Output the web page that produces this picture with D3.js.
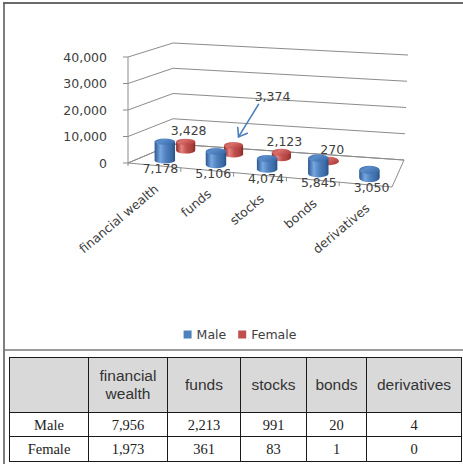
<!DOCTYPE html>
<html>
<head>
<meta charset="utf-8">
<script src="https://cdn.jsdelivr.net/npm/d3@7"></script>
<style>
  html, body { margin: 0; padding: 0; background: #fff; }
  svg { display: block; }
</style>
</head>
<body>
<svg id="fig" width="463" height="464"></svg>
<script>
// ---- chart data: holdings by asset class ----
const categories = ["financial wealth", "funds", "stocks", "bonds", "derivatives"];
const seriesNames = ["Male", "Female"];
const maleValues = [7178, 5106, 4074, 5845, 3050];
const femaleValues = [3428, 3374, 2123, 270, null];
const yTickValues = [0, 10000, 20000, 30000, 40000];

// ---- summary table data ----
const tableHeader = ["", "financial wealth", "funds", "stocks", "bonds", "derivatives"];
const tableRowLabels = ["Male", "Female"];
const tableMale = [7956, 2213, 991, 20, 4];
const tableFemale = [1973, 361, 83, 1, 0];

// ---- layout ----
const svg = d3.select("#fig");
const fmt = d3.format(",");
const chartFont = "'DejaVu Sans', Verdana, sans-serif";
const axisGray = "#8c8c8c";
const textGray = "#404040";

// corners of the 3-D plot box on screen: floor and top (value = max)
const box = {
  floor: { fl: [128, 163], fr: [392, 187], bl: [173, 144], br: [404, 160] },
  top:   { fl: [128, 57],  fr: [395, 79],  bl: [173, 43],  br: [408, 55] }
};
function bilerp(c, u, w) {
  const k = [(1 - u) * (1 - w), u * (1 - w), (1 - u) * w, u * w];
  return [
    k[0] * c.fl[0] + k[1] * c.fr[0] + k[2] * c.bl[0] + k[3] * c.br[0],
    k[0] * c.fl[1] + k[1] * c.fr[1] + k[2] * c.bl[1] + k[3] * c.br[1]
  ];
}
// u: along categories (0..1), w: depth (0 front .. 1 back), t: height fraction
function project(u, w, t) {
  const a = bilerp(box.floor, u, w), b = bilerp(box.top, u, w);
  return [a[0] + (b[0] - a[0]) * t, a[1] + (b[1] - a[1]) * t];
}

const uScale = d3.scaleBand().domain(categories).range([0, 1]);
const wScale = d3.scaleBand().domain(seriesNames).range([0, 1]);
const vScale = d3.scaleLinear().domain([0, d3.max(yTickValues)]).range([0, 1]);

// ---- gradients for the cylinders ----
const defs = svg.append("defs");
const palettes = {
  Male: {
    body: [["0%", "#2b5890"], ["28%", "#78a6e0"], ["55%", "#4f81bd"], ["85%", "#3a69a5"], ["100%", "#284f82"]],
    top:  [["0%", "#3a6aa8"], ["40%", "#5b8dcb"], ["100%", "#3d6dab"]]
  },
  Female: {
    body: [["0%", "#8a2c2a"], ["28%", "#e5827f"], ["55%", "#c0504d"], ["85%", "#a93f3c"], ["100%", "#832927"]],
    top:  [["0%", "#b24441"], ["40%", "#d8706d"], ["100%", "#b5423f"]]
  }
};
Object.entries(palettes).forEach(([name, p]) => {
  ["body", "top"].forEach(part => {
    const g = defs.append("linearGradient")
      .attr("id", `${name}-${part}`)
      .attr("x1", 0).attr("x2", 1).attr("y1", 0).attr("y2", part === "top" ? 0.6 : 0);
    p[part].forEach(([o, c]) => g.append("stop").attr("offset", o).attr("stop-color", c));
  });
});

// ---- frame ----
svg.append("line").attr("x1", 3).attr("x2", 463).attr("y1", 3).attr("y2", 3)
  .attr("stroke", "#3a3a3a").attr("stroke-width", 1.5);
svg.append("line").attr("x1", 4).attr("x2", 4).attr("y1", 3).attr("y2", 464)
  .attr("stroke", "#555").attr("stroke-width", 1.5);
svg.append("line").attr("x1", 4).attr("x2", 463).attr("y1", 350).attr("y2", 350)
  .attr("stroke", "#7a7a7a").attr("stroke-width", 1.5);

// ---- walls: gridlines on the side and back walls ----
const plot = svg.append("g");
const lineGen = d3.line();
plot.selectAll("path.grid")
  .data(yTickValues)
  .join("path")
  .attr("class", "grid")
  .attr("d", v => {
    const t = vScale(v);
    return lineGen([project(0, 0, t), project(0, 1, t), project(1, 1, t)]);
  })
  .attr("fill", "none")
  .attr("stroke", axisGray)
  .attr("stroke-width", 1);

// floor outline
plot.append("path")
  .attr("d", lineGen([project(0, 0, 0), project(1, 0, 0), project(1, 1, 0), project(0, 1, 0)]) + "Z")
  .attr("fill", "none").attr("stroke", axisGray).attr("stroke-width", 1);

// value axis on the front-left edge
const axisBase = project(0, 0, 0), axisTop = project(0, 0, 1);
plot.append("line")
  .attr("x1", axisBase[0]).attr("y1", axisBase[1] + 3)
  .attr("x2", axisTop[0]).attr("y2", axisTop[1])
  .attr("stroke", axisGray);
const yTicks = plot.selectAll("g.ytick").data(yTickValues).join("g").attr("class", "ytick");
yTicks.append("line")
  .attr("x1", v => project(0, 0, vScale(v))[0] - 5)
  .attr("x2", v => project(0, 0, vScale(v))[0])
  .attr("y1", v => project(0, 0, vScale(v))[1])
  .attr("y2", v => project(0, 0, vScale(v))[1])
  .attr("stroke", axisGray);
yTicks.append("text")
  .attr("x", v => project(0, 0, vScale(v))[0] - 21)
  .attr("y", v => project(0, 0, vScale(v))[1] + 4.5)
  .attr("text-anchor", "end")
  .attr("font-family", chartFont).attr("font-size", 12.5)
  .attr("fill", textGray)
  .text(v => fmt(v));

// category ticks along the front edge of the floor
const boundaries = d3.range(1, categories.length).map(i => i / categories.length);
plot.selectAll("line.xtick").data(boundaries).join("line")
  .attr("class", "xtick")
  .attr("x1", u => project(u, 0, 0)[0]).attr("x2", u => project(u, 0, 0)[0])
  .attr("y1", u => project(u, 0, 0)[1]).attr("y2", u => project(u, 0, 0)[1] + 4)
  .attr("stroke", axisGray);

// category labels
plot.selectAll("text.cat").data(categories).join("text")
  .attr("class", "cat")
  .attr("transform", c => {
    const p = project(uScale(c) + uScale.bandwidth() / 2, 0, 0);
    return `translate(${p[0] + 5},${p[1] + 25}) rotate(-40)`;
  })
  .attr("text-anchor", "end")
  .attr("font-family", chartFont).attr("font-size", 12.5)
  .attr("fill", textGray)
  .text(c => c);

// ---- cylinders ----
const seriesValues = { Male: maleValues, Female: femaleValues };
const diam = uScale.bandwidth() * 0.4;
const depthDiam = wScale.bandwidth() * 0.62;

function cylinderGeom(cat, series, value) {
  const u = uScale(cat) + uScale.bandwidth() / 2;
  const w = wScale(series) + wScale.bandwidth() / 2;
  const base = project(u, w, 0);
  const full = base[1] - project(u, w, 1)[1];
  const topY = base[1] - full * vScale(value);
  const rx = (project(u + diam / 2, w, 0)[0] - project(u - diam / 2, w, 0)[0]) / 2;
  const ry = (project(u, w - depthDiam / 2, 0)[1] - project(u, w + depthDiam / 2, 0)[1]) / 2;
  return { cx: base[0], by: base[1], ty: topY, rx, ry, u, w };
}

// back row first so the front row overlaps it
const drawOrder = seriesNames.slice().reverse();
drawOrder.forEach(series => {
  const items = categories
    .map((c, i) => ({ cat: c, value: seriesValues[series][i] }))
    .filter(d => d.value != null)
    .map(d => Object.assign(d, cylinderGeom(d.cat, series, d.value)));
  const g = plot.append("g").attr("class", `bars-${series}`);
  const bar = g.selectAll("g").data(items).join("g");
  bar.append("path")
    .attr("d", d => `M${d.cx - d.rx},${d.ty} L${d.cx - d.rx},${d.by} ` +
      `A${d.rx},${d.ry} 0 0 0 ${d.cx + d.rx},${d.by} L${d.cx + d.rx},${d.ty} Z`)
    .attr("fill", `url(#${series}-body)`);
  bar.append("ellipse")
    .attr("cx", d => d.cx).attr("cy", d => d.ty)
    .attr("rx", d => d.rx).attr("ry", d => d.ry)
    .attr("fill", `url(#${series}-top)`);
});

// ---- data labels ----
const labelFont = { family: chartFont, size: 12.5 };
// front row: labels sit just in front of the floor edge
plot.selectAll("text.lblMale")
  .data(categories.map((c, i) => ({ cat: c, value: maleValues[i] })))
  .join("text")
  .attr("class", "lblMale")
  .attr("x", d => project(uScale(d.cat) + uScale.bandwidth() / 2, 0, 0)[0] + 6)
  .attr("y", d => project(uScale(d.cat) + uScale.bandwidth() / 2, 0, 0)[1] + 7.5)
  .attr("text-anchor", "middle")
  .attr("font-family", labelFont.family).attr("font-size", labelFont.size)
  .attr("fill", textGray)
  .text(d => fmt(d.value));

// back row: labels above the cylinder tops; "funds" uses a callout arrow
const calloutCategory = "funds";
const femaleItems = categories
  .map((c, i) => ({ cat: c, value: femaleValues[i] }))
  .filter(d => d.value != null)
  .map(d => Object.assign(d, cylinderGeom(d.cat, "Female", d.value)));

plot.selectAll("text.lblFemale")
  .data(femaleItems)
  .join("text")
  .attr("class", "lblFemale")
  .attr("x", d => d.cat === calloutCategory ? d.cx + 39 : d.cx + 3)
  .attr("y", d => d.cat === calloutCategory ? d.ty - 44 : d.ty - 6.5)
  .attr("text-anchor", "middle")
  .attr("font-family", labelFont.family).attr("font-size", labelFont.size)
  .attr("fill", textGray)
  .text(d => fmt(d.value));

const callout = femaleItems.find(d => d.cat === calloutCategory);
if (callout) {
  const start = [callout.cx + 25, callout.ty - 41];
  const tip = [callout.cx + 5, callout.ty - 8.5];
  const ang = Math.atan2(start[1] - tip[1], start[0] - tip[0]);
  const headLen = 9.5, spread = 36 * Math.PI / 180;
  const arm = a => [tip[0] + headLen * Math.cos(a), tip[1] + headLen * Math.sin(a)];
  const arrow = plot.append("g").attr("stroke", "#4a7ebb").attr("stroke-width", 1.6)
    .attr("fill", "none").attr("stroke-linecap", "round");
  arrow.append("path").attr("d", lineGen([start, tip]));
  arrow.append("path").attr("d", lineGen([arm(ang - spread), tip, arm(ang + spread)]));
}

// ---- legend ----
const legendColors = { Male: "#4f81bd", Female: "#c0504d" };
const legend = svg.append("g");
let lx = 0;
seriesNames.forEach((s, i) => {
  const item = legend.append("g").attr("transform", `translate(${lx},0)`);
  item.append("rect").attr("x", 0).attr("y", -8).attr("width", 8).attr("height", 8)
    .attr("fill", legendColors[s]);
  const t = item.append("text").attr("x", 13).attr("y", 0)
    .attr("font-family", chartFont).attr("font-size", 12.5)
    .attr("fill", textGray).text(s);
  lx += 13 + t.node().getComputedTextLength() + 12;
});
const legendWidth = lx - 12;
legend.attr("transform", `translate(${240 - legendWidth / 2},338.5)`);

// ---- summary table ----
const colEdges = [9.5, 88.5, 167.5, 240.5, 306.5, 366.5, 461.5];
const rowEdges = [357.5, 412.5, 436.5, 461.5];
const table = svg.append("g");
const tableRows = [tableHeader, [tableRowLabels[0], ...tableMale.map(fmt)], [tableRowLabels[1], ...tableFemale.map(fmt)]];

tableRows.forEach((row, r) => {
  row.forEach((cell, c) => {
    const x0 = colEdges[c], x1 = colEdges[c + 1];
    const y0 = rowEdges[r], y1 = rowEdges[r + 1];
    table.append("rect")
      .attr("x", x0).attr("y", y0).attr("width", x1 - x0).attr("height", y1 - y0)
      .attr("fill", r === 0 ? "#d9d9d9" : "#fff")
      .attr("stroke", "#1a1a1a").attr("stroke-width", 1);
    if (!cell) return;
    const isHeader = r === 0;
    const txt = table.append("text")
      .attr("text-anchor", "middle")
      .attr("font-family", isHeader ? "'Liberation Sans', Arial, sans-serif" : "'Liberation Serif', 'Times New Roman', serif")
      .attr("font-size", isHeader ? 15.5 : 14.5)
      .attr("fill", isHeader ? "#333" : "#222");
    const cx = (x0 + x1) / 2;
    // wrap header text into lines that fit the cell
    const words = String(cell).split(" ");
    const lines = [];
    if (isHeader) {
      let cur = "";
      const probe = txt.append("tspan");
      words.forEach(wd => {
        const trial = cur ? cur + " " + wd : wd;
        probe.text(trial);
        if (cur && probe.node().getComputedTextLength() > (x1 - x0) - 8) {
          lines.push(cur); cur = wd;
        } else cur = trial;
      });
      lines.push(cur);
      probe.remove();
    } else lines.push(String(cell));
    const lh = 18;
    const midY = (y0 + y1) / 2;
    lines.forEach((ln, k) => {
      txt.append("tspan")
        .attr("x", cx)
        .attr("y", midY + (k - (lines.length - 1) / 2) * lh + 5)
        .text(ln);
    });
  });
});
</script>
</body>
</html>
